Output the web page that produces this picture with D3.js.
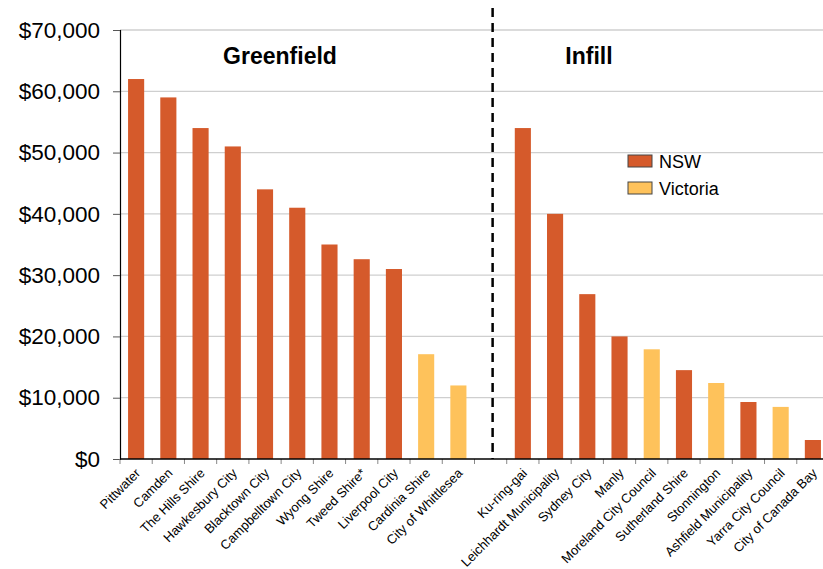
<!doctype html>
<html lang="en">
  <head>
    <meta charset="utf-8">
    <title>Greenfield vs Infill</title>
    <style>
      body { margin: 0; background: #fff; }
      svg { font-family: "Liberation Sans", Arial, sans-serif; display: block; }
    </style>
  </head>
  <body>
    <script src="https://cdn.jsdelivr.net/npm/d3@7"></script>
    <script>

var greenNames  = ["Pittwater", "Camden", "The Hills Shire", "Hawkesbury City", "Blacktown City",
                   "Campbelltown City", "Wyong Shire", "Tweed Shire*", "Liverpool City",
                   "Cardinia Shire", "City of Whittlesea"];
var greenValues = [62000, 59000, 54000, 51000, 44000, 41000, 35000, 32600, 31000, 17100, 12000];
var greenStates = ["NSW", "NSW", "NSW", "NSW", "NSW", "NSW", "NSW", "NSW", "NSW", "Victoria", "Victoria"];

var infillNames  = ["Ku-ring-gai", "Leichhardt Municipality", "Sydney City", "Manly",
                    "Moreland City Council", "Sutherland Shire", "Stonnington",
                    "Ashfield Municipality", "Yarra City Council", "City of Canada Bay"];
var infillValues = [54000, 40000, 26900, 20000, 17900, 14500, 12400, 9300, 8500, 3100];
var infillStates = ["NSW", "NSW", "NSW", "NSW", "Victoria", "NSW", "Victoria", "NSW", "Victoria", "NSW"];

var yTicks = [0, 10000, 20000, 30000, 40000, 50000, 60000, 70000];
var states = ["NSW", "Victoria"];
var colors = ["#D55A2B", "#FEC25B"];

// build rows, with one empty slot between the two groups
var rows = [];
greenNames.forEach(function(n, i){ rows.push({ name: n, value: greenValues[i], state: greenStates[i] }); });
rows.push({ name: "__gap", value: null, state: null });
infillNames.forEach(function(n, i){ rows.push({ name: n, value: infillValues[i], state: infillStates[i] }); });

var width = 823, height = 569;
var margin = { top: 30, left: 120, bottom: 110 };
var plotRight = 829;

var svg = d3.select("body").append("svg")
    .attr("width", width)
    .attr("height", height);

var x = d3.scaleBand()
    .domain(rows.map(function(d){ return d.name; }))
    .range([margin.left, plotRight])
    .paddingInner(0.5)
    .paddingOuter(0.25);

var y = d3.scaleLinear()
    .domain([0, 70000])
    .range([height - margin.bottom, margin.top]);

var color = d3.scaleOrdinal().domain(states).range(colors);

// gridlines
svg.append("g")
   .selectAll("line")
   .data(yTicks.slice(1))
   .enter().append("line")
   .attr("x1", margin.left).attr("x2", width)
   .attr("y1", function(d){ return y(d); })
   .attr("y2", function(d){ return y(d); })
   .attr("stroke", "#cfcfcf")
   .attr("stroke-width", 1.3);

// bars
svg.append("g")
   .selectAll("rect")
   .data(rows.filter(function(d){ return d.value !== null; }))
   .enter().append("rect")
   .attr("x", function(d){ return x(d.name); })
   .attr("y", function(d){ return y(d.value); })
   .attr("width", x.bandwidth())
   .attr("height", function(d){ return y(0) - y(d.value); })
   .attr("fill", function(d){ return color(d.state); });

// y axis
var yAxis = svg.append("g")
   .attr("transform", "translate(" + margin.left + ",0)")
   .call(d3.axisLeft(y).tickValues(yTicks).tickSize(7).tickPadding(13)
         .tickFormat(function(d){ return "$" + d3.format(",")(d); }));
yAxis.select(".domain").attr("stroke", "#000").attr("stroke-width", 1.2);
yAxis.selectAll(".tick line").attr("stroke", "#555");
yAxis.selectAll("text").attr("font-size", "22.5px").attr("fill", "#000")
     .attr("font-family", "Liberation Sans, Arial, sans-serif");

// x axis: ticks at slot boundaries
var step = x.step();
svg.append("g")
   .selectAll("line")
   .data(rows)
   .enter().append("line")
   .attr("x1", function(d){ return x(d.name) + x.bandwidth() / 2 - step / 2; })
   .attr("x2", function(d){ return x(d.name) + x.bandwidth() / 2 - step / 2; })
   .attr("y1", y(0)).attr("y2", y(0) + 5)
   .attr("stroke", "#888");

svg.append("line")
   .attr("x1", margin.left).attr("x2", width)
   .attr("y1", y(0)).attr("y2", y(0))
   .attr("stroke", "#000").attr("stroke-width", 1.5);

// x labels
svg.append("g")
   .selectAll("text")
   .data(rows.filter(function(d){ return d.value !== null; }))
   .enter().append("text")
   .attr("transform", function(d){
       return "translate(" + (x(d.name) + x.bandwidth() / 2 + 5) + "," + (y(0) + 15) + ") rotate(-45)";
   })
   .attr("text-anchor", "end")
   .attr("font-size", "13px")
   .attr("fill", "#000")
   .text(function(d){ return d.name; });

// divider between groups
var gapX = x("__gap") + x.bandwidth() / 2 + 2;
svg.append("line")
   .attr("x1", gapX).attr("x2", gapX)
   .attr("y1", 8).attr("y2", y(0))
   .attr("stroke", "#000")
   .attr("stroke-width", 2.5)
   .attr("stroke-dasharray", "9,6");

// group titles
svg.append("text")
   .attr("x", 280).attr("y", 64)
   .attr("text-anchor", "middle")
   .attr("font-size", "23px").attr("font-weight", "bold")
   .text("Greenfield");

svg.append("text")
   .attr("x", 589).attr("y", 64)
   .attr("text-anchor", "middle")
   .attr("font-size", "23px").attr("font-weight", "bold")
   .text("Infill");

// legend
var legend = svg.append("g")
   .attr("transform", "translate(628,155)");

legend.selectAll("rect")
   .data(states)
   .enter().append("rect")
   .attr("x", 0)
   .attr("y", function(d, i){ return i * 27; })
   .attr("width", 24).attr("height", 12)
   .attr("fill", function(d){ return color(d); })
   .attr("stroke", "#444").attr("stroke-width", 1);

legend.selectAll("text")
   .data(states)
   .enter().append("text")
   .attr("x", 31)
   .attr("y", function(d, i){ return i * 27 + 13; })
   .attr("font-size", "18px")
   .text(function(d){ return d; });

    </script>
  </body>
</html>
